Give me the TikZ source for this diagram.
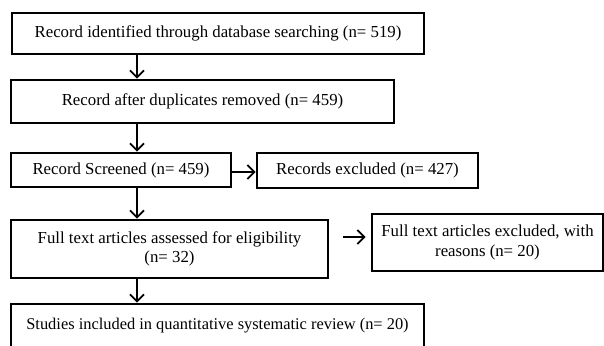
\documentclass[tikz,border=0pt]{standalone}
\usepackage{fontspec}
\setmainfont{Liberation Serif}
\usetikzlibrary{arrows.meta}
\begin{document}
\begin{tikzpicture}[x=1pt,y=1pt,
  box/.style={draw=black,line width=2.9pt,rectangle,inner sep=0pt,align=center,
    font=\fontsize{16.8}{19.5}\selectfont},
  arr/.style={draw=black,line width=1.8pt,-{Straight Barb[length=7pt,width=14pt,line width=1.8pt]}}]
\clip (0,0) rectangle (604,-345);
\fill[white] (0,0) rectangle (604,-345);
\node[box,minimum width=412,minimum height=41] (b1) at (218,-33.5) {Record identified through database searching (n= 519)};
\node[box,minimum width=383,minimum height=43] (b2) at (202.5,-101.5) {Record after duplicates removed (n= 459)};
\node[box,minimum width=220,minimum height=34] (b3) at (121,-170) {Record Screened (n= 459)};
\node[box,minimum width=221,minimum height=35] (b4) at (367.5,-170.5) {Records excluded (n= 427)};
\node[box,minimum width=317,minimum height=58] (b5) at (169.5,-249) {Full text articles assessed for eligibility\\(n= 32)};
\node[box,minimum width=231,minimum height=57] (b6) at (487.5,-242.5) {Full text articles excluded, with\\reasons (n= 20)};
\node[box,minimum width=413,minimum height=44,font=\fontsize{16.4}{19.5}\selectfont] (b7) at (217.5,-326) {Studies included in quantitative systematic review (n= 20)};
\coordinate (ax) at (137,0);
\draw[arr] (b1.south -| ax) -- (b2.north -| ax);
\draw[arr] (b2.south -| ax) -- (b3.north -| ax);
\draw[arr] (b3.south -| ax) -- (b5.north -| ax);
\draw[arr] (b5.south -| ax) -- (b7.north -| ax);
\coordinate (h1) at (0,-172);
\draw[arr] (b3.east |- h1) -- (b4.west |- h1);
\coordinate (h2) at (0,-237);
\draw[arr,shorten <=14pt,shorten >=5pt] (b5.east |- h2) -- (b6.west |- h2);
\end{tikzpicture}
\end{document}
